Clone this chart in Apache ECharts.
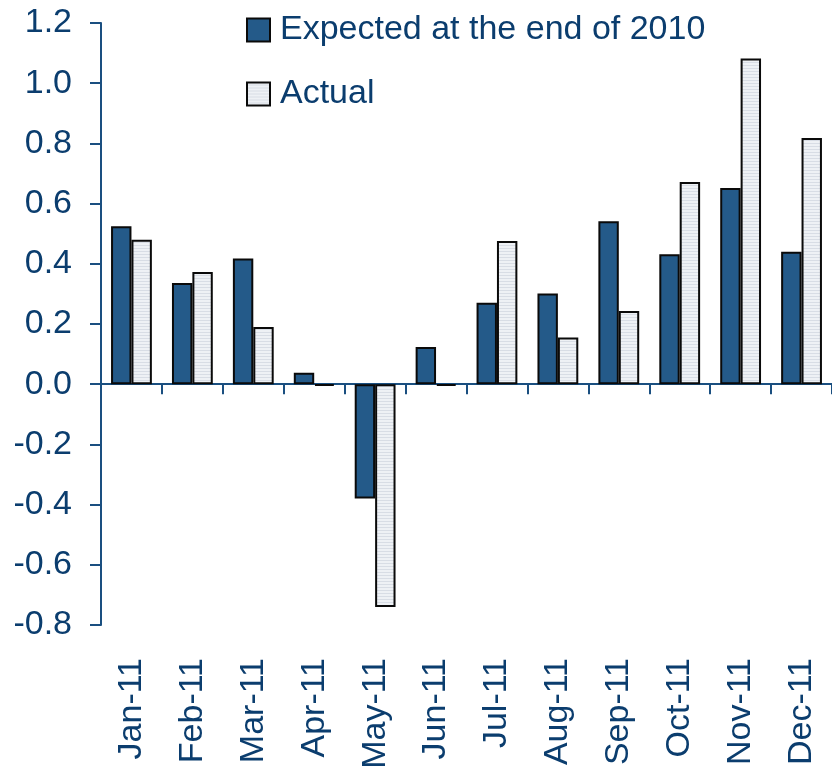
<!DOCTYPE html>
<html>
<head>
<meta charset="UTF-8">
<title>Expected vs Actual</title>
<script type="text/javascript" src="https://cdn.jsdelivr.net/npm/echarts@6/dist/echarts.min.js"></script>
<style>
  html, body { margin: 0; padding: 0; background: #fff; }
</style>
</head>
<body>
<div id="main" style="width:832px;height:767px"></div>
<script type="text/javascript">
var months = ['Jan-11','Feb-11','Mar-11','Apr-11','May-11','Jun-11','Jul-11','Aug-11','Sep-11','Oct-11','Nov-11','Dec-11'];
var expected = [0.525, 0.336, 0.418, 0.038, -0.38, 0.124, 0.271, 0.301, 0.541, 0.432, 0.652, 0.44];
var actual = [0.48, 0.373, 0.19, -0.005, -0.74, -0.005, 0.476, 0.155, 0.243, 0.672, 1.082, 0.818];
var yTicks = { min: -0.8, max: 1.2, step: 0.2 };

var navy = '#0b3d6e';
var axisBlue = '#1a4f80';

// striped light fill for the "Actual" bars
var stripe = document.createElement('canvas');
stripe.width = 4; stripe.height = 3;
var sc = stripe.getContext('2d');
sc.fillStyle = '#eef1f5'; sc.fillRect(0, 0, 4, 3);
sc.fillStyle = '#d8dde5'; sc.fillRect(0, 2, 4, 1);

var myChart = echarts.init(document.getElementById('main'));

var option = {
    animation: false,
    textStyle: { fontFamily: 'Liberation Sans, Arial, sans-serif' },
    grid: { left: 101, top: 23, right: 0, bottom: 142, containLabel: false, outerBoundsMode: 'none' },
    legend: {
        orient: 'vertical',
        left: 241,
        top: 8,
        itemWidth: 23,
        itemHeight: 23,
        itemGap: 30,
        icon: 'rect',
        data: ['Expected at the end of 2010', 'Actual'],
        textStyle: { color: navy, fontSize: 34, padding: [0, 0, 0, 5] }
    },
    xAxis: [
        {
            // labels along the bottom
            type: 'category',
            data: months,
            position: 'bottom',
            axisLine: { show: false, onZero: false },
            axisTick: { show: false },
            axisLabel: { rotate: 90, margin: 33, fontSize: 34, color: navy, interval: 0 },
            splitLine: { show: false }
        },
        {
            // the zero line with its ticks
            type: 'category',
            data: months,
            position: 'bottom',
            axisLine: { onZero: true, lineStyle: { color: axisBlue, width: 2 } },
            axisTick: { show: true, length: 10, lineStyle: { color: axisBlue, width: 2 } },
            axisLabel: { show: false },
            splitLine: { show: false }
        }
    ],
    yAxis: {
        type: 'value',
        min: yTicks.min,
        max: yTicks.max,
        interval: yTicks.step,
        axisLine: { show: true, lineStyle: { color: axisBlue, width: 2 } },
        axisTick: { show: true, length: 11, lineStyle: { color: axisBlue, width: 2 } },
        axisLabel: {
            margin: 29, fontSize: 34, color: navy,
            formatter: function (v) { return v.toFixed(1); }
        },
        splitLine: { show: false }
    },
    series: [
        {
            name: 'Expected at the end of 2010',
            type: 'bar',
            data: expected,
            barGap: '0%',
            barCategoryGap: '33%',
            itemStyle: { color: '#245a89', borderColor: '#0a0a0a', borderWidth: 2 }
        },
        {
            name: 'Actual',
            type: 'bar',
            data: actual,
            barGap: '0%',
            barCategoryGap: '33%',
            itemStyle: {
                color: { image: stripe, repeat: 'repeat' },
                borderColor: '#0a0a0a', borderWidth: 2
            }
        }
    ]
};

myChart.setOption(option);
</script>
</body>
</html>
